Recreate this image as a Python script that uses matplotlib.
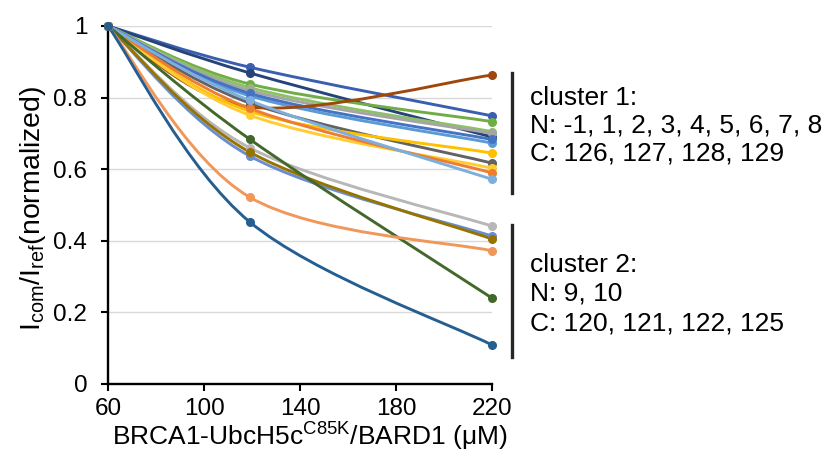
"""
normalized intensity ratio vs BRCA1-UbcH5c/BARD1 concentration, two clusters
"""

import numpy as np
import matplotlib
matplotlib.use("Agg")
import matplotlib.pyplot as plt
from matplotlib.path import Path
from matplotlib.patches import PathPatch
from matplotlib.lines import Line2D

plt.rcParams['font.family'] = ['Liberation Sans', 'DejaVu Sans']
plt.rcParams['mathtext.fontset'] = 'custom'
plt.rcParams['mathtext.rm'] = 'Liberation Sans'

conc = [60, 119, 220]

# cluster 1 series (value at each concentration)
cluster1 = [
    [1.0, 0.885, 0.749],
    [1.0, 0.869, 0.690],
    [1.0, 0.838, 0.733],
    [1.0, 0.828, 0.705],
    [1.0, 0.820, 0.700],
    [1.0, 0.805, 0.673],
    [1.0, 0.812, 0.683],
    [1.0, 0.785, 0.617],
    [1.0, 0.774, 0.863],
    [1.0, 0.762, 0.645],
    [1.0, 0.751, 0.603],
    [1.0, 0.770, 0.590],
    [1.0, 0.792, 0.572],
]
colors1 = ['#3A5FB0', '#264478', '#70AD47', '#8CC168', '#A5A5A5', '#5B9BD5',
           '#4472C4', '#636363', '#9E480E', '#FFC000', '#FFCD33', '#ED7D31',
           '#7CAFDD']

# cluster 2 series
cluster2 = [
    [1.0, 0.660, 0.441],
    [1.0, 0.637, 0.413],
    [1.0, 0.648, 0.405],
    [1.0, 0.684, 0.240],
    [1.0, 0.522, 0.372],
    [1.0, 0.453, 0.109],
]
colors2 = ['#B7B7B7', '#698ED0', '#997300', '#43682B', '#F1975A', '#255E91']

yticks = [0, 0.2, 0.4, 0.6, 0.8, 1]
ytick_labels = ['0', '0.2', '0.4', '0.6', '0.8', '1']
xticks = [60, 100, 140, 180, 220]

cluster1_lines = ["cluster 1:", "N: -1, 1, 2, 3, 4, 5, 6, 7, 8",
                  "C: 126, 127, 128, 129"]
cluster2_lines = ["cluster 2:", "N: 9, 10", "C: 120, 121, 122, 125"]


def smooth_path(xs, ys):
    """excel-like smoothed line as a cubic bezier path (catmull-rom, tension 1/6)"""
    pts = np.column_stack([xs, ys]).astype(float)
    n = len(pts)
    ext = np.vstack([pts[0], pts, pts[-1]])
    verts = [pts[0]]
    codes = [Path.MOVETO]
    for i in range(n - 1):
        p0, p1, p2, p3 = ext[i], ext[i + 1], ext[i + 2], ext[i + 3]
        c1 = p1 + (p2 - p0) / 6
        c2 = p2 - (p3 - p1) / 6
        verts += [c1, c2, p2]
        codes += [Path.CURVE4] * 3
    return Path(verts, codes)


W, H = 825, 463
fig = plt.figure(figsize=(W / 100, H / 100), dpi=100)
ax = fig.add_axes([108 / W, 1 - 384 / H, 384 / W, 358 / H])

ax.set_xlim(60, 220)
ax.set_ylim(0, 1)

for y in yticks[1:]:
    ax.axhline(y, color='#D9D9D9', lw=1.0, zorder=0)

allseries = list(zip(cluster1, colors1)) + list(zip(cluster2, colors2))
for vals, c in allseries:
    ax.add_patch(PathPatch(smooth_path(conc, vals), fill=False, edgecolor=c,
                           lw=2.1, zorder=2, clip_on=False, capstyle='round'))
    ax.plot(conc, vals, ls='none', marker='o', ms=5.5, color=c, zorder=3,
            clip_on=False)

ax.set_xticks(xticks)
ax.set_yticks(yticks)
ax.set_yticklabels(ytick_labels)
ax.tick_params(axis='both', direction='out', length=5, width=1.5, labelsize=17.5,
               colors='black')
ax.tick_params(axis='y', pad=10)
ax.tick_params(axis='x', pad=5)
for s in ['top', 'right']:
    ax.spines[s].set_visible(False)
for s in ['left', 'bottom']:
    ax.spines[s].set_linewidth(1.7)
    ax.spines[s].set_color('black')

ax.set_xlabel(r'BRCA1-UbcH5c$^{\mathregular{C85K}}$/BARD1 (μM)', fontsize=19)
ax.xaxis.set_label_coords((310 - 108) / 384, (384 - 419) / 358)
ax.set_ylabel(r'$\mathregular{I_{com}/I_{ref}}$(normalized)', fontsize=20.5)
ax.yaxis.set_label_coords((48 - 108) / 384, 0.49)

# cluster brackets and notes
fig.add_artist(Line2D([512 / W, 512 / W], [1 - 73 / H, 1 - 193 / H],
                      color='#262626', lw=2.4))
fig.add_artist(Line2D([512 / W, 512 / W], [1 - 225 / H, 1 - 357 / H],
                      color='#262626', lw=2.4))
for txt, yb in zip(cluster1_lines, [105, 133, 161]):
    fig.text(530 / W, 1 - yb / H, txt, fontsize=19, va='baseline', ha='left')
for txt, yb in zip(cluster2_lines, [272, 301, 330]):
    fig.text(530 / W, 1 - yb / H, txt, fontsize=19, va='baseline', ha='left')

fig.savefig('out.png', dpi=100)
